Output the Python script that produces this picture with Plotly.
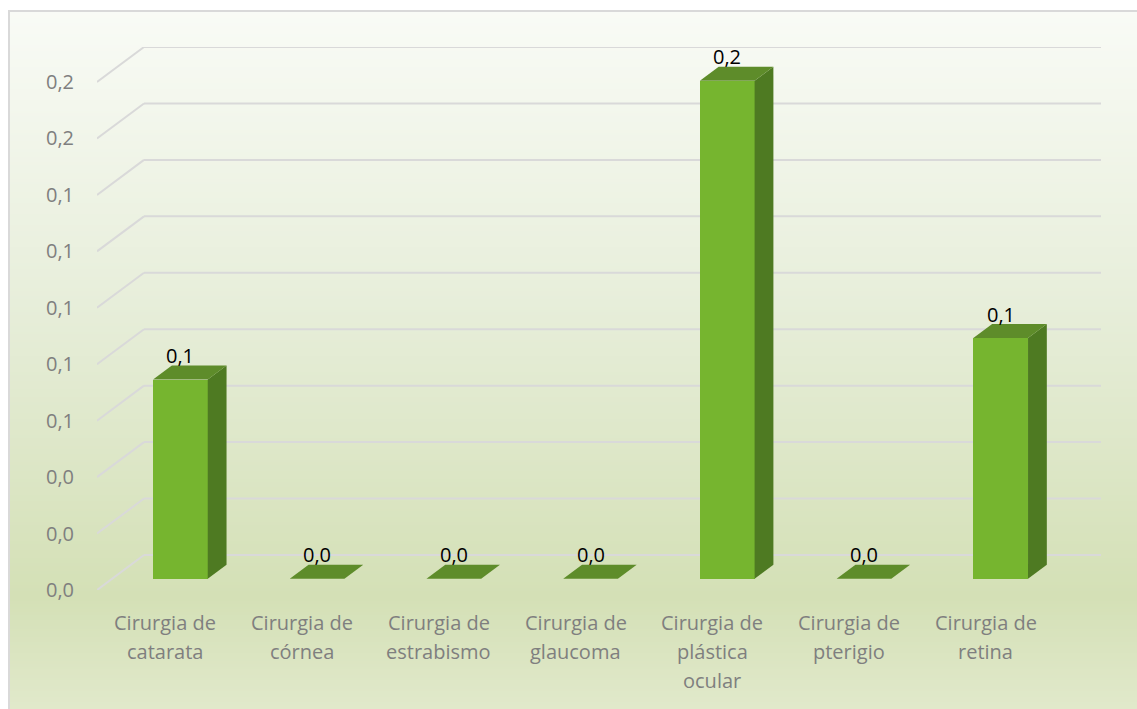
import base64
import struct
import zlib

import plotly.graph_objects as go

# ---------------- data ----------------
categories = [
    "Cirurgia de<br>catarata",
    "Cirurgia de<br>córnea",
    "Cirurgia de<br>estrabismo",
    "Cirurgia de<br>glaucoma",
    "Cirurgia de<br>plástica<br>ocular",
    "Cirurgia de<br>pterigio",
    "Cirurgia de<br>retina",
]
values = [0.0706, 0.0, 0.0, 0.0, 0.1765, 0.0, 0.0853]
y_ticks = [0.00, 0.02, 0.04, 0.06, 0.08, 0.10, 0.12, 0.14, 0.16, 0.18]
y_tick_labels = [f"{v:.1f}".replace(".", ",") for v in y_ticks]
value_labels = [f"{v:.1f}".replace(".", ",") for v in values]

# ---------------- geometry / style ----------------
W, H = 1137, 709
ML, MR, MT, MB = 97, 36, 47, 119
plot_w = W - ML - MR
plot_h = H - MT - MB
n = len(categories)
DEPTH_PX = (47, 35)  # oblique depth offset of the 3D box (px)
cat_px = plot_w / (n + DEPTH_PX[0] / 136.7)
dxu = DEPTH_PX[0] / cat_px
ymax_front = y_ticks[-1]
val_px = (plot_h - DEPTH_PX[1]) / ymax_front
dyu = DEPTH_PX[1] / val_px
x_range = [-0.5, n - 0.5 + dxu]
y_range = [0, ymax_front + dyu]

bar_w = 0.40
d0, d1 = 0.32, 0.72
FRONT = "#76B52F"
SIDE = "#4E7A22"
TOP = "#5E8C2A"
GRID = "#D9D9D9"
FONT = "Open Sans"
FS = 20


def gradient_png(height, stops):
    rows = []
    for r in range(height):
        t = r / (height - 1)
        for k in range(len(stops) - 1):
            t0, c0 = stops[k]
            t1, c1 = stops[k + 1]
            if t0 <= t <= t1:
                f = (t - t0) / (t1 - t0) if t1 > t0 else 0
                rows.append(tuple(int(round(c0[j] + (c1[j] - c0[j]) * f)) for j in range(3)))
                break
    raw = b"".join(b"\x00" + bytes(c) for c in rows)

    def chunk(tag, data):
        return struct.pack(">I", len(data)) + tag + data + struct.pack(">I", zlib.crc32(tag + data) & 0xFFFFFFFF)

    png = b"\x89PNG\r\n\x1a\n" + chunk(b"IHDR", struct.pack(">IIBBBBB", 1, height, 8, 2, 0, 0, 0))
    png += chunk(b"IDAT", zlib.compress(raw)) + chunk(b"IEND", b"")
    return "data:image/png;base64," + base64.b64encode(png).decode()


bg = gradient_png(
    256,
    [
        (0.0, (249, 251, 246)),
        (0.42, (231, 238, 218)),
        (0.84, (212, 224, 182)),
        (1.0, (225, 233, 203)),
    ],
)

fig = go.Figure()

# gridlines (left wall diagonal + back wall horizontal), drawn below the traces
for v in y_ticks:
    fig.add_shape(type="line", xref="x", yref="y", x0=-0.5, y0=v, x1=-0.5 + dxu, y1=v + dyu,
                  line=dict(color=GRID, width=2), layer="below")
    fig.add_shape(type="line", xref="x", yref="y", x0=-0.5 + dxu, y0=v + dyu, x1=n - 0.5 + dxu, y1=v + dyu,
                  line=dict(color=GRID, width=2), layer="below")

# side and top faces
for i, v in enumerate(values):
    xl, xr = i - bar_w / 2, i + bar_w / 2
    if v > 0:
        fig.add_trace(go.Scatter(
            x=[xr + d0 * dxu, xr + d1 * dxu, xr + d1 * dxu, xr + d0 * dxu, xr + d0 * dxu],
            y=[d0 * dyu, d1 * dyu, v + d1 * dyu, v + d0 * dyu, d0 * dyu],
            mode="lines", fill="toself", fillcolor=SIDE, line=dict(width=0, color=SIDE),
            hoverinfo="skip", showlegend=False))
    fig.add_trace(go.Scatter(
        x=[xl + d0 * dxu, xr + d0 * dxu, xr + d1 * dxu, xl + d1 * dxu, xl + d0 * dxu],
        y=[v + d0 * dyu, v + d0 * dyu, v + d1 * dyu, v + d1 * dyu, v + d0 * dyu],
        mode="lines", fill="toself", fillcolor=TOP, line=dict(width=0, color=TOP),
        hoverinfo="skip", showlegend=False))

# front faces
fig.add_trace(go.Bar(
    x=[i + d0 * dxu for i in range(n)], y=values, base=d0 * dyu, width=bar_w,
    marker=dict(color=FRONT, line=dict(width=0)), showlegend=False, hoverinfo="skip"))

# value labels
for i, v in enumerate(values):
    fig.add_annotation(x=i + d0 * dxu, y=v + d0 * dyu, text=value_labels[i], showarrow=False,
                       yshift=24, yanchor="middle", font=dict(family=FONT, size=FS, color="#000000"))

# category labels, one annotation per line (Excel line spacing)
for i, cat in enumerate(categories):
    for j, line in enumerate(cat.split("<br>")):
        fig.add_annotation(x=i, y=0, text=line, showarrow=False, yanchor="middle",
                           yshift=-(32 + 29 * j),
                           font=dict(family=FONT, size=FS, color="#7F7F7F"))

# background image and border
fig.add_layout_image(dict(
    source=bg, xref="paper", yref="paper",
    x=(9 - ML) / plot_w, y=(H - MB - 11) / plot_h,
    sizex=(W - 9) / plot_w, sizey=(H - 11) / plot_h,
    xanchor="left", yanchor="top", sizing="stretch", layer="below"))
fig.add_shape(type="rect", xref="paper", yref="paper",
              x0=(9 - ML) / plot_w, x1=(W + 5 - ML) / plot_w,
              y0=(H - MB - (H + 5)) / plot_h, y1=(H - MB - 11) / plot_h,
              line=dict(color="#D9D9D9", width=2), fillcolor="rgba(0,0,0,0)", layer="below")

fig.update_layout(
    width=W, height=H,
    margin=dict(l=ML, r=MR, t=MT, b=MB, pad=0),
    paper_bgcolor="white", plot_bgcolor="rgba(0,0,0,0)",
    bargap=0, showlegend=False,
    font=dict(family=FONT, size=FS, color="#7F7F7F"),
    xaxis=dict(range=x_range, tickvals=list(range(n)), showticklabels=False,
               showgrid=False, zeroline=False, showline=False, ticks="", fixedrange=True),
    yaxis=dict(range=y_range, tickvals=y_ticks, ticktext=y_tick_labels,
               showgrid=False, zeroline=False, showline=False, ticks="",
               ticklabelstandoff=22, fixedrange=True),
)

fig.write_html("out.html")
